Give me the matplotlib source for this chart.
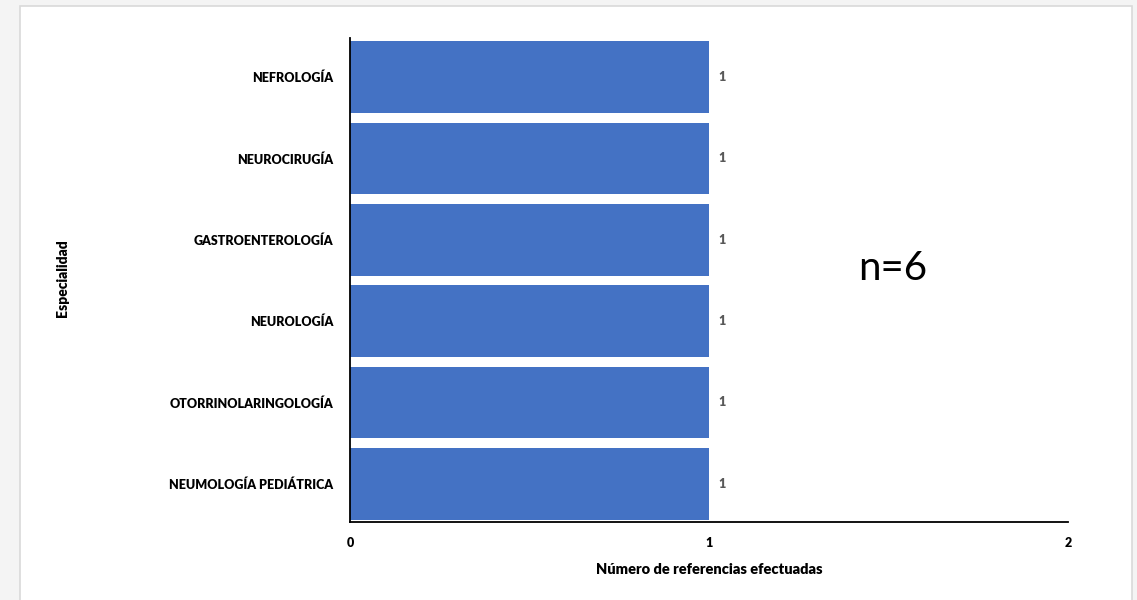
import numpy as np
import matplotlib.pyplot as plt
from matplotlib.patches import Rectangle

plt.rcParams['font.family'] = ['Lato', 'DejaVu Sans']

especialidades = ["NEUMOLOGÍA PEDIÁTRICA", "OTORRINOLARINGOLOGÍA", "NEUROLOGÍA",
                  "GASTROENTEROLOGÍA", "NEUROCIRUGÍA", "NEFROLOGÍA"]
referencias = [1, 1, 1, 1, 1, 1]
xticks = [0, 1, 2]
total = "n=6"

fig = plt.figure(figsize=(11.37, 6), dpi=100)
fig.patch.set_facecolor("#f4f4f4")
# white card with light border
fig.patches.append(Rectangle((20 / 1137, -0.01), 1112 / 1137, 1.0, transform=fig.transFigure,
                             facecolor="white", edgecolor="#d9d9d9", linewidth=1.2, zorder=-5))

ax = fig.add_axes([0.3078, 0.13, 0.6315, 0.8067])
ax.patch.set_alpha(0)

ypos = np.arange(len(especialidades))
ax.barh(ypos, referencias, height=0.88, color="#4472c4", zorder=2)

for y, v in zip(ypos, referencias):
    ax.text(v + 0.025, y, str(v), va="center", ha="left", fontsize=9,
            fontweight="heavy", color="#595959")

ax.set_xlim(0, 2)
ax.set_ylim(-0.47, 5.48)
ax.set_xticks(xticks)
ax.set_xticklabels([str(t) for t in xticks], fontsize=9, fontweight="heavy")
ax.set_yticks(ypos)
ax.set_yticklabels(especialidades, fontsize=9, fontweight="heavy")
ax.tick_params(axis="both", length=0)
ax.tick_params(axis="y", pad=12)
ax.tick_params(axis="x", pad=11)

for s in ["top", "right"]:
    ax.spines[s].set_visible(False)
ax.spines["left"].set_linewidth(1.3)
ax.spines["bottom"].set_linewidth(1.3)

ax.set_xlabel("Número de referencias efectuadas", fontsize=10.5, fontweight="heavy", labelpad=10)
fig.text(62 / 1137, 1 - 278 / 600, "Especialidad", rotation=90, ha="center", va="center",
         fontsize=10, fontweight="heavy")

fig.text(893 / 1137, 1 - 268 / 600, total, ha="center", va="center", fontsize=29)

fig.savefig("out.png", dpi=100, facecolor=fig.get_facecolor())
